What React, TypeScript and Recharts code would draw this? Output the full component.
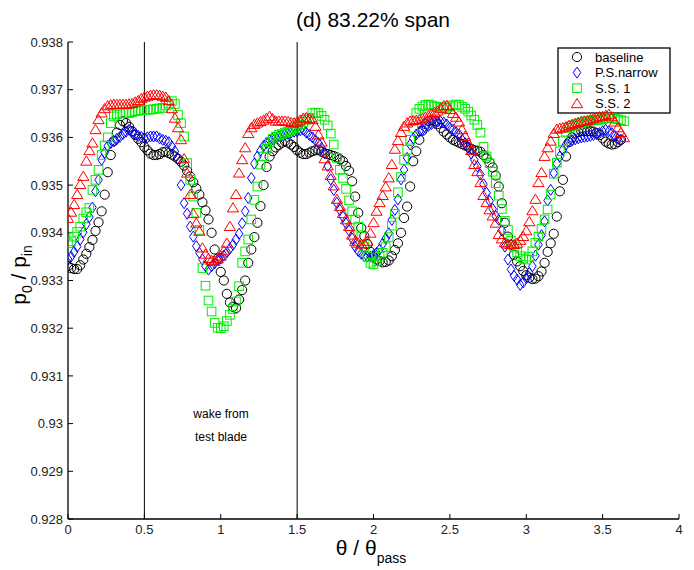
import React from 'react';
import {
  ScatterChart,
  Scatter,
  XAxis,
  YAxis,
  ReferenceLine,
  Customized,
} from 'recharts';

// sampling grid of theta / theta_pass
const theta: number[] = Array.from({ length: 183 }, (_, i) => Math.round(i * 2) / 100);

const baseline = [
  0.93330, 0.93326, 0.93324, 0.93324, 0.93332, 0.93344, 0.93356, 0.93370, 0.93385, 0.93404,
  0.93422, 0.93445, 0.93480, 0.93527, 0.93563, 0.93592, 0.93610, 0.93626, 0.93634, 0.93630,
  0.93622, 0.93613, 0.93605, 0.93597, 0.93590, 0.93580, 0.93573, 0.93566, 0.93563, 0.93563,
  0.93565, 0.93569, 0.93570, 0.93567, 0.93564, 0.93560, 0.93555, 0.93549, 0.93541, 0.93530,
  0.93518, 0.93506, 0.93493, 0.93480, 0.93464, 0.93447, 0.93428, 0.93400, 0.93365, 0.93346,
  0.93318, 0.93300, 0.93272, 0.93254, 0.93245, 0.93242, 0.93260, 0.93280, 0.93300, 0.93337,
  0.93365, 0.93391, 0.93421, 0.93456, 0.93500, 0.93538, 0.93560, 0.93571, 0.93579, 0.93584,
  0.93589, 0.93592, 0.93589, 0.93585, 0.93580, 0.93573, 0.93568, 0.93565, 0.93565, 0.93568,
  0.93571, 0.93573, 0.93574, 0.93570, 0.93567, 0.93565, 0.93563, 0.93561, 0.93558, 0.93554,
  0.93550, 0.93540, 0.93530, 0.93508, 0.93476, 0.93442, 0.93410, 0.93393, 0.93376, 0.93360,
  0.93350, 0.93344, 0.93341, 0.93338, 0.93339, 0.93342, 0.93351, 0.93364, 0.93378, 0.93400,
  0.93431, 0.93455, 0.93497, 0.93550, 0.93571, 0.93595, 0.93614, 0.93628, 0.93634, 0.93636,
  0.93634, 0.93628, 0.93620, 0.93612, 0.93606, 0.93600, 0.93595, 0.93592, 0.93589, 0.93586,
  0.93583, 0.93580, 0.93576, 0.93573, 0.93572, 0.93570, 0.93563, 0.93556, 0.93547, 0.93537,
  0.93520, 0.93497, 0.93462, 0.93421, 0.93392, 0.93375, 0.93354, 0.93340, 0.93330, 0.93320,
  0.93311, 0.93306, 0.93303, 0.93304, 0.93309, 0.93319, 0.93337, 0.93360, 0.93378, 0.93398,
  0.93434, 0.93487, 0.93511, 0.93560, 0.93590, 0.93600, 0.93608, 0.93611, 0.93613, 0.93613,
  0.93613, 0.93613, 0.93612, 0.93609, 0.93605, 0.93598, 0.93591, 0.93587, 0.93585, 0.93586,
  0.93590, 0.93595,
];

const psNarrow = [
  0.93345, 0.93350, 0.93360, 0.93371, 0.93386, 0.93401, 0.93418, 0.93433, 0.93453, 0.93487,
  0.93511, 0.93553, 0.93568, 0.93582, 0.93588, 0.93592, 0.93597, 0.93601, 0.93607, 0.93612,
  0.93616, 0.93611, 0.93607, 0.93603, 0.93601, 0.93599, 0.93600, 0.93602, 0.93602, 0.93602,
  0.93598, 0.93595, 0.93593, 0.93590, 0.93581, 0.93571, 0.93555, 0.93500, 0.93462, 0.93440,
  0.93413, 0.93392, 0.93372, 0.93358, 0.93344, 0.93330, 0.93323, 0.93330, 0.93336, 0.93342,
  0.93346, 0.93352, 0.93359, 0.93367, 0.93375, 0.93386, 0.93398, 0.93420, 0.93445, 0.93473,
  0.93515, 0.93545, 0.93560, 0.93572, 0.93582, 0.93588, 0.93594, 0.93597, 0.93600, 0.93602,
  0.93604, 0.93606, 0.93608, 0.93610, 0.93612, 0.93613, 0.93615, 0.93616, 0.93610, 0.93605,
  0.93600, 0.93594, 0.93588, 0.93578, 0.93567, 0.93540, 0.93512, 0.93490, 0.93463, 0.93448,
  0.93434, 0.93420, 0.93405, 0.93388, 0.93371, 0.93362, 0.93356, 0.93351, 0.93350, 0.93350,
  0.93353, 0.93358, 0.93365, 0.93377, 0.93388, 0.93399, 0.93427, 0.93448, 0.93470, 0.93512,
  0.93532, 0.93557, 0.93585, 0.93598, 0.93606, 0.93612, 0.93616, 0.93620, 0.93624, 0.93628,
  0.93630, 0.93633, 0.93633, 0.93631, 0.93627, 0.93620, 0.93616, 0.93611, 0.93606, 0.93595,
  0.93588, 0.93578, 0.93566, 0.93553, 0.93539, 0.93522, 0.93502, 0.93484, 0.93467, 0.93450,
  0.93435, 0.93427, 0.93405, 0.93371, 0.93344, 0.93323, 0.93310, 0.93302, 0.93291, 0.93296,
  0.93305, 0.93316, 0.93330, 0.93352, 0.93375, 0.93395, 0.93424, 0.93468, 0.93490, 0.93525,
  0.93545, 0.93560, 0.93574, 0.93585, 0.93592, 0.93594, 0.93596, 0.93598, 0.93600, 0.93601,
  0.93602, 0.93603, 0.93605, 0.93607, 0.93609, 0.93613, 0.93616, 0.93613, 0.93609, 0.93603,
  0.93597, 0.93595,
];

const ss1 = [
  0.93378, 0.93382, 0.93392, 0.93402, 0.93413, 0.93430, 0.93443, 0.93452, 0.93490, 0.93511,
  0.93532, 0.93563, 0.93583, 0.93600, 0.93630, 0.93644, 0.93648, 0.93650, 0.93651, 0.93651,
  0.93651, 0.93653, 0.93655, 0.93656, 0.93657, 0.93658, 0.93658, 0.93658, 0.93659, 0.93660,
  0.93661, 0.93662, 0.93667, 0.93671, 0.93676, 0.93670, 0.93647, 0.93630, 0.93602, 0.93546,
  0.93511, 0.93476, 0.93442, 0.93406, 0.93326, 0.93289, 0.93258, 0.93235, 0.93211, 0.93201,
  0.93200, 0.93204, 0.93215, 0.93228, 0.93240, 0.93256, 0.93288, 0.93337, 0.93361, 0.93386,
  0.93428, 0.93469, 0.93497, 0.93543, 0.93560, 0.93576, 0.93590, 0.93597, 0.93601, 0.93605,
  0.93607, 0.93610, 0.93612, 0.93615, 0.93619, 0.93623, 0.93627, 0.93632, 0.93637, 0.93641,
  0.93651, 0.93652, 0.93651, 0.93645, 0.93637, 0.93625, 0.93608, 0.93585, 0.93557, 0.93532,
  0.93515, 0.93492, 0.93468, 0.93445, 0.93428, 0.93413, 0.93392, 0.93371, 0.93350, 0.93337,
  0.93334, 0.93340, 0.93350, 0.93358, 0.93370, 0.93391, 0.93415, 0.93440, 0.93485, 0.93517,
  0.93553, 0.93574, 0.93595, 0.93620, 0.93651, 0.93660, 0.93665, 0.93668, 0.93669, 0.93667,
  0.93665, 0.93664, 0.93663, 0.93662, 0.93662, 0.93665, 0.93667, 0.93669, 0.93668, 0.93664,
  0.93660, 0.93654, 0.93646, 0.93637, 0.93626, 0.93610, 0.93580, 0.93560, 0.93546, 0.93528,
  0.93504, 0.93478, 0.93450, 0.93425, 0.93406, 0.93383, 0.93371, 0.93359, 0.93351, 0.93346,
  0.93344, 0.93350, 0.93361, 0.93379, 0.93392, 0.93408, 0.93428, 0.93449, 0.93480, 0.93524,
  0.93547, 0.93571, 0.93592, 0.93612, 0.93620, 0.93624, 0.93626, 0.93629, 0.93630, 0.93632,
  0.93634, 0.93635, 0.93636, 0.93636, 0.93637, 0.93638, 0.93640, 0.93641, 0.93640, 0.93639,
  0.93638, 0.93636, 0.93634,
];

const ss2 = [
  0.93430, 0.93443, 0.93459, 0.93480, 0.93501, 0.93518, 0.93550, 0.93572, 0.93588, 0.93616,
  0.93637, 0.93651, 0.93660, 0.93666, 0.93668, 0.93669, 0.93669, 0.93669, 0.93669, 0.93669,
  0.93670, 0.93671, 0.93674, 0.93677, 0.93681, 0.93684, 0.93686, 0.93688, 0.93689, 0.93689,
  0.93688, 0.93686, 0.93684, 0.93677, 0.93660, 0.93640, 0.93620, 0.93595, 0.93555, 0.93525,
  0.93480, 0.93440, 0.93420, 0.93403, 0.93368, 0.93355, 0.93346, 0.93342, 0.93340, 0.93345,
  0.93351, 0.93362, 0.93378, 0.93413, 0.93452, 0.93480, 0.93525, 0.93553, 0.93578, 0.93608,
  0.93620, 0.93627, 0.93630, 0.93633, 0.93636, 0.93640, 0.93644, 0.93639, 0.93634, 0.93634,
  0.93634, 0.93634, 0.93633, 0.93631, 0.93630, 0.93632, 0.93636, 0.93640, 0.93641, 0.93639,
  0.93637, 0.93623, 0.93605, 0.93590, 0.93555, 0.93540, 0.93520, 0.93498, 0.93470, 0.93455,
  0.93440, 0.93427, 0.93413, 0.93395, 0.93382, 0.93378, 0.93376, 0.93377, 0.93382, 0.93399,
  0.93421, 0.93445, 0.93463, 0.93478, 0.93496, 0.93515, 0.93543, 0.93575, 0.93593, 0.93610,
  0.93623, 0.93630, 0.93634, 0.93635, 0.93636, 0.93637, 0.93639, 0.93642, 0.93645, 0.93649,
  0.93652, 0.93655, 0.93660, 0.93666, 0.93667, 0.93658, 0.93650, 0.93642, 0.93632, 0.93616,
  0.93602, 0.93588, 0.93572, 0.93543, 0.93528, 0.93505, 0.93478, 0.93463, 0.93448, 0.93435,
  0.93420, 0.93396, 0.93387, 0.93379, 0.93376, 0.93375, 0.93375, 0.93378, 0.93384, 0.93392,
  0.93404, 0.93423, 0.93446, 0.93470, 0.93505, 0.93526, 0.93560, 0.93578, 0.93592, 0.93608,
  0.93617, 0.93619, 0.93620, 0.93622, 0.93625, 0.93627, 0.93629, 0.93631, 0.93633, 0.93634,
  0.93635, 0.93637, 0.93639, 0.93641, 0.93643, 0.93644, 0.93646, 0.93648, 0.93643, 0.93632,
  0.93620, 0.93610, 0.93599,
];

const xTicks = [0, 0.5, 1, 1.5, 2, 2.5, 3, 3.5, 4];
const yTicks = [0.928, 0.929, 0.93, 0.931, 0.932, 0.933, 0.934, 0.935, 0.936, 0.937, 0.938];
const wakeLines = [0.5, 1.5];
const seriesNames = ['baseline', 'P.S.narrow', 'S.S. 1', 'S.S. 2'];
const titleText = '(d) 83.22% span';
const annotation = ['wake from', 'test blade'];

const FONT = '"Liberation Sans", Arial, Helvetica, sans-serif';
const COLORS = ['#000000', '#0000ff', '#00ee00', '#ff0000'];

const toPoints = (vals: number[]) => vals.map((v, i) => ({ x: theta[i], y: v }));

const markerEl = (kind: number, cx: number, cy: number, key?: string) => {
  const c = COLORS[kind];
  if (kind === 0) return <circle key={key} cx={cx} cy={cy} r={4.6} fill="none" stroke={c} strokeWidth={1} />;
  if (kind === 1)
    return (
      <path key={key} d={`M${cx},${cy - 5.5}L${cx + 3.8},${cy}L${cx},${cy + 5.5}L${cx - 3.8},${cy}Z`} fill="none" stroke={c} strokeWidth={1} />
    );
  if (kind === 2) return <rect key={key} x={cx - 4.3} y={cy - 4.3} width={8.6} height={8.6} fill="none" stroke={c} strokeWidth={1} />;
  return (
    <path key={key} d={`M${cx},${cy - 5.3}L${cx + 5.6},${cy + 3.9}L${cx - 5.6},${cy + 3.9}Z`} fill="none" stroke={c} strokeWidth={1} />
  );
};

const makeShape = (kind: number) => (props: any) => {
  const { cx, cy } = props;
  if (cx == null || cy == null) return <g />;
  return markerEl(kind, cx, cy);
};

const Overlay = () => {
  const lx = 558;
  const ly = 48;
  return (
    <g fontFamily={FONT}>
      <text x={373} y={27} textAnchor="middle" fontSize={21} fill="#000">
        {titleText}
      </text>
      <text x={371} y={555} textAnchor="middle" fontSize={21} fill="#000">
        θ / θ
        <tspan fontSize={14} dy={8}>pass</tspan>
      </text>
      <text x={26} y={275} textAnchor="middle" fontSize={21} fill="#000" transform="rotate(-90 26 275)">
        p<tspan fontSize={14} dy={6}>0</tspan>
        <tspan dy={-6}> / p</tspan>
        <tspan fontSize={14} dy={6}>in</tspan>
      </text>
      <text x={221} y={418} textAnchor="middle" fontSize={12} fill="#000">
        {annotation[0]}
      </text>
      <text x={221} y={441} textAnchor="middle" fontSize={12} fill="#000">
        {annotation[1]}
      </text>
      <rect x={lx} y={ly} width={112} height={65} fill="#fff" stroke="#000" strokeWidth={1.3} />
      {seriesNames.map((name, i) => (
        <g key={name}>
          {markerEl(i, lx + 19, ly + 9 + i * 15.6)}
          <text x={lx + 37} y={ly + 13.5 + i * 15.6} fontSize={13} fill="#000">
            {name}
          </text>
        </g>
      ))}
    </g>
  );
};

const fmtY = (v: number) => String(+v.toFixed(3));
const fmtX = (v: number) => String(v);

export default function App() {
  return (
    <div style={{ position: 'absolute', left: 0, top: 0, width: 694, height: 570, background: '#fff' }}>
      <ScatterChart width={694} height={570} margin={{ top: 42, right: 15, bottom: 21, left: 8 }}>
        <XAxis
          type="number"
          dataKey="x"
          domain={[0, 4]}
          ticks={xTicks}
          allowDataOverflow
          tickFormatter={fmtX}
          height={30}
          tickSize={-5}
          tickMargin={11}
          axisLine={{ stroke: '#000', strokeWidth: 1.3 }}
          tickLine={{ stroke: '#000' }}
          tick={{ fill: '#222', fontSize: 13, fontFamily: FONT }}
        />
        <XAxis
          xAxisId="top"
          orientation="top"
          type="number"
          domain={[0, 4]}
          ticks={xTicks}
          allowDataOverflow
          height={0}
          tickSize={-5}
          axisLine={{ stroke: '#000', strokeWidth: 1.3 }}
          tickLine={{ stroke: '#000' }}
          tick={() => <g />}
        />
        <YAxis
          type="number"
          dataKey="y"
          domain={[0.928, 0.938]}
          ticks={yTicks}
          allowDataOverflow
          tickFormatter={fmtY}
          width={60}
          tickSize={-5}
          tickMargin={10}
          axisLine={{ stroke: '#000', strokeWidth: 1.3 }}
          tickLine={{ stroke: '#000' }}
          tick={{ fill: '#222', fontSize: 13, fontFamily: FONT }}
        />
        <YAxis
          yAxisId="right"
          orientation="right"
          type="number"
          domain={[0.928, 0.938]}
          ticks={yTicks}
          allowDataOverflow
          width={0}
          tickSize={-5}
          axisLine={{ stroke: '#000', strokeWidth: 1.3 }}
          tickLine={{ stroke: '#000' }}
          tick={() => <g />}
        />
        {wakeLines.map((x) => (
          <ReferenceLine key={x} x={x} stroke="#000" strokeWidth={1} />
        ))}
        <Scatter name={seriesNames[0]} data={toPoints(baseline)} shape={makeShape(0)} isAnimationActive={false} />
        <Scatter name={seriesNames[1]} data={toPoints(psNarrow)} shape={makeShape(1)} isAnimationActive={false} />
        <Scatter name={seriesNames[2]} data={toPoints(ss1)} shape={makeShape(2)} isAnimationActive={false} />
        <Scatter name={seriesNames[3]} data={toPoints(ss2)} shape={makeShape(3)} isAnimationActive={false} />
        <Customized component={Overlay} />
      </ScatterChart>
    </div>
  );
}
